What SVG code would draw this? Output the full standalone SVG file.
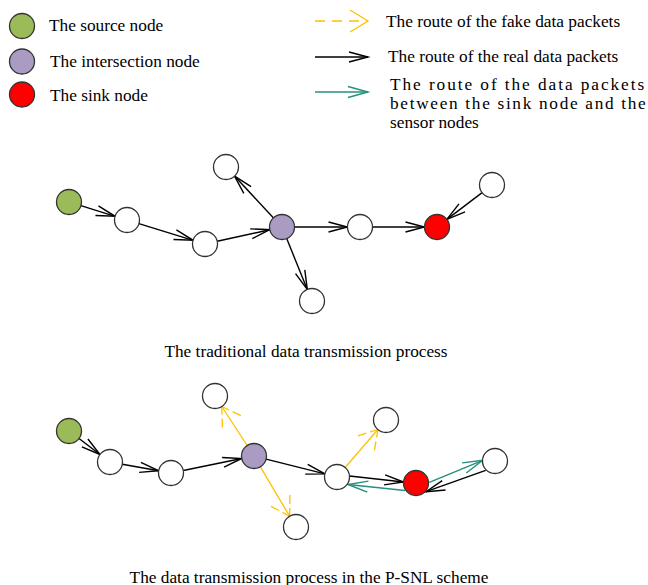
<svg xmlns="http://www.w3.org/2000/svg" width="648" height="585" viewBox="0 0 648 585">
<style>
text{font-family:"Liberation Serif","Times New Roman",serif;font-size:17.3px;fill:#000}
.n{stroke:#333;stroke-width:1.3;fill:#fff}
.src{fill:#9bbb59}.int{fill:#a99bc1}.snk{fill:#ff0000}
.bk{stroke:#000;stroke-width:1.4;fill:none;marker-end:url(#ab)}
.yl{stroke:#ffc000;stroke-width:1.3;fill:none;marker-end:url(#ay)}
.gr{stroke:#23907a;stroke-width:1.4;fill:none;marker-end:url(#ag)}
</style>
<defs>
<marker id="ab" markerUnits="userSpaceOnUse" orient="auto" markerWidth="30" markerHeight="30" refX="0" refY="0" overflow="visible"><path d="M-19,-5 L0,0 L-19,5" fill="none" stroke="#000" stroke-width="1.4"/></marker>
<marker id="ay" markerUnits="userSpaceOnUse" orient="auto" markerWidth="30" markerHeight="30" refX="0" refY="0" overflow="visible"><path d="M-18,-11 L0,0 M-18,11 L0,0" fill="none" stroke="#ffc000" stroke-width="1.3" stroke-dasharray="9 4"/></marker>
<marker id="ag" markerUnits="userSpaceOnUse" orient="auto" markerWidth="30" markerHeight="30" refX="0" refY="0" overflow="visible"><path d="M-20,-5.5 L0,0 L-20,5.5" fill="none" stroke="#23907a" stroke-width="1.4"/></marker>
</defs>

<g id="legend">
<circle class="n src" cx="22" cy="26" r="12.5"/>
<circle class="n int" cx="22" cy="61.5" r="12.5"/>
<circle class="n snk" cx="22" cy="94.5" r="12.5"/>
<text x="49" y="31">The source node</text>
<text x="50" y="67">The intersection node</text>
<text x="50" y="100.5">The sink node</text>
<path d="M315,21 L368,21" stroke="#ffc000" stroke-width="1.3" stroke-dasharray="10 7" fill="none"/>
<path d="M350,10 L368,21 L350,32" stroke="#ffc000" stroke-width="1.3" fill="none"/>
<path class="bk" d="M315,57 L368,57"/>
<path class="gr" d="M315,92 L368,92"/>
<text x="386" y="27">The route of the fake data packets</text>
<text x="388" y="62">The route of the real data packets</text>
<text x="390" y="90" letter-spacing="1.93">The route of the data packets</text>
<text x="390" y="109" letter-spacing="1.68">between the sink node and the</text>
<text x="390" y="128">sensor nodes</text>
</g>

<g id="connectors">
<!-- top graph -->
<path class="bk" d="M80.9,205.7 L115.1,216.3"/>
<path class="bk" d="M138.9,223.7 L193.1,240.3"/>
<path class="bk" d="M217.2,241.3 L269.8,229.7"/>
<path class="bk" d="M273.5,217.9 L234.5,176.1"/>
<path class="bk" d="M286.7,238.6 L307.3,289.4"/>
<path class="bk" d="M294.5,227 L347.5,227"/>
<path class="bk" d="M372.5,227 L424.5,227"/>
<path class="bk" d="M482.1,192.6 L446.9,219.4"/>
<!-- bottom graph -->
<path class="bk" d="M79,438.5 L100,454.5"/>
<path class="bk" d="M122.3,464.2 L158.7,470.8"/>
<path class="bk" d="M183.3,470.5 L241.7,458.5"/>
<path class="bk" d="M266.1,459.1 L324.9,473.9"/>
<path class="yl" d="M247.2,445.5 L221.8,406.5"/>
<path class="yl" d="M260.4,466.8 L289.6,516.2"/>
<path class="yl" d="M345.1,467.5 L377.9,429.5"/>
<path class="bk" d="M349.5,476 L403.5,482"/>
<path class="gr" d="M405,490.5 L348,484.5"/>
<path class="bk" d="M485.7,470.3 L426,491.7"/>
<path class="gr" d="M429.3,482.3 L482.7,460.3"/>
</g>

<g id="top-source"><circle class="n src" cx="69" cy="202" r="12.5"/></g>
<g id="top-n1"><circle class="n" cx="127" cy="220" r="12.5"/></g>
<g id="top-n2"><circle class="n" cx="205" cy="244" r="12.5"/></g>
<g id="top-intersection"><circle class="n int" cx="282" cy="227" r="12.5"/></g>
<g id="top-n3"><circle class="n" cx="226" cy="167" r="12.5"/></g>
<g id="top-n4"><circle class="n" cx="312" cy="301" r="12.5"/></g>
<g id="top-n5"><circle class="n" cx="360" cy="227" r="12.5"/></g>
<g id="top-sink"><circle class="n snk" cx="437" cy="227" r="12.5"/></g>
<g id="top-n6"><circle class="n" cx="492" cy="185" r="12.5"/></g>

<g id="bot-source"><circle class="n src" cx="69" cy="431" r="12.5"/></g>
<g id="bot-n1"><circle class="n" cx="110" cy="462" r="12.5"/></g>
<g id="bot-n2"><circle class="n" cx="171" cy="473" r="12.5"/></g>
<g id="bot-intersection"><circle class="n int" cx="254" cy="456" r="12.5"/></g>
<g id="bot-n3"><circle class="n" cx="215" cy="396" r="12.5"/></g>
<g id="bot-n4"><circle class="n" cx="296" cy="527" r="12.5"/></g>
<g id="bot-n5"><circle class="n" cx="337" cy="477" r="12.5"/></g>
<g id="bot-n6"><circle class="n" cx="386" cy="420" r="12.5"/></g>
<g id="bot-sink"><circle class="n snk" cx="416" cy="483" r="12.5"/></g>
<g id="bot-n7"><circle class="n" cx="495" cy="461" r="12.5"/></g>

<g id="captions">
<text x="306" y="357" text-anchor="middle">The traditional data transmission process</text>
<text x="309" y="583" text-anchor="middle">The data transmission process in the P-SNL scheme</text>
</g>
</svg>
